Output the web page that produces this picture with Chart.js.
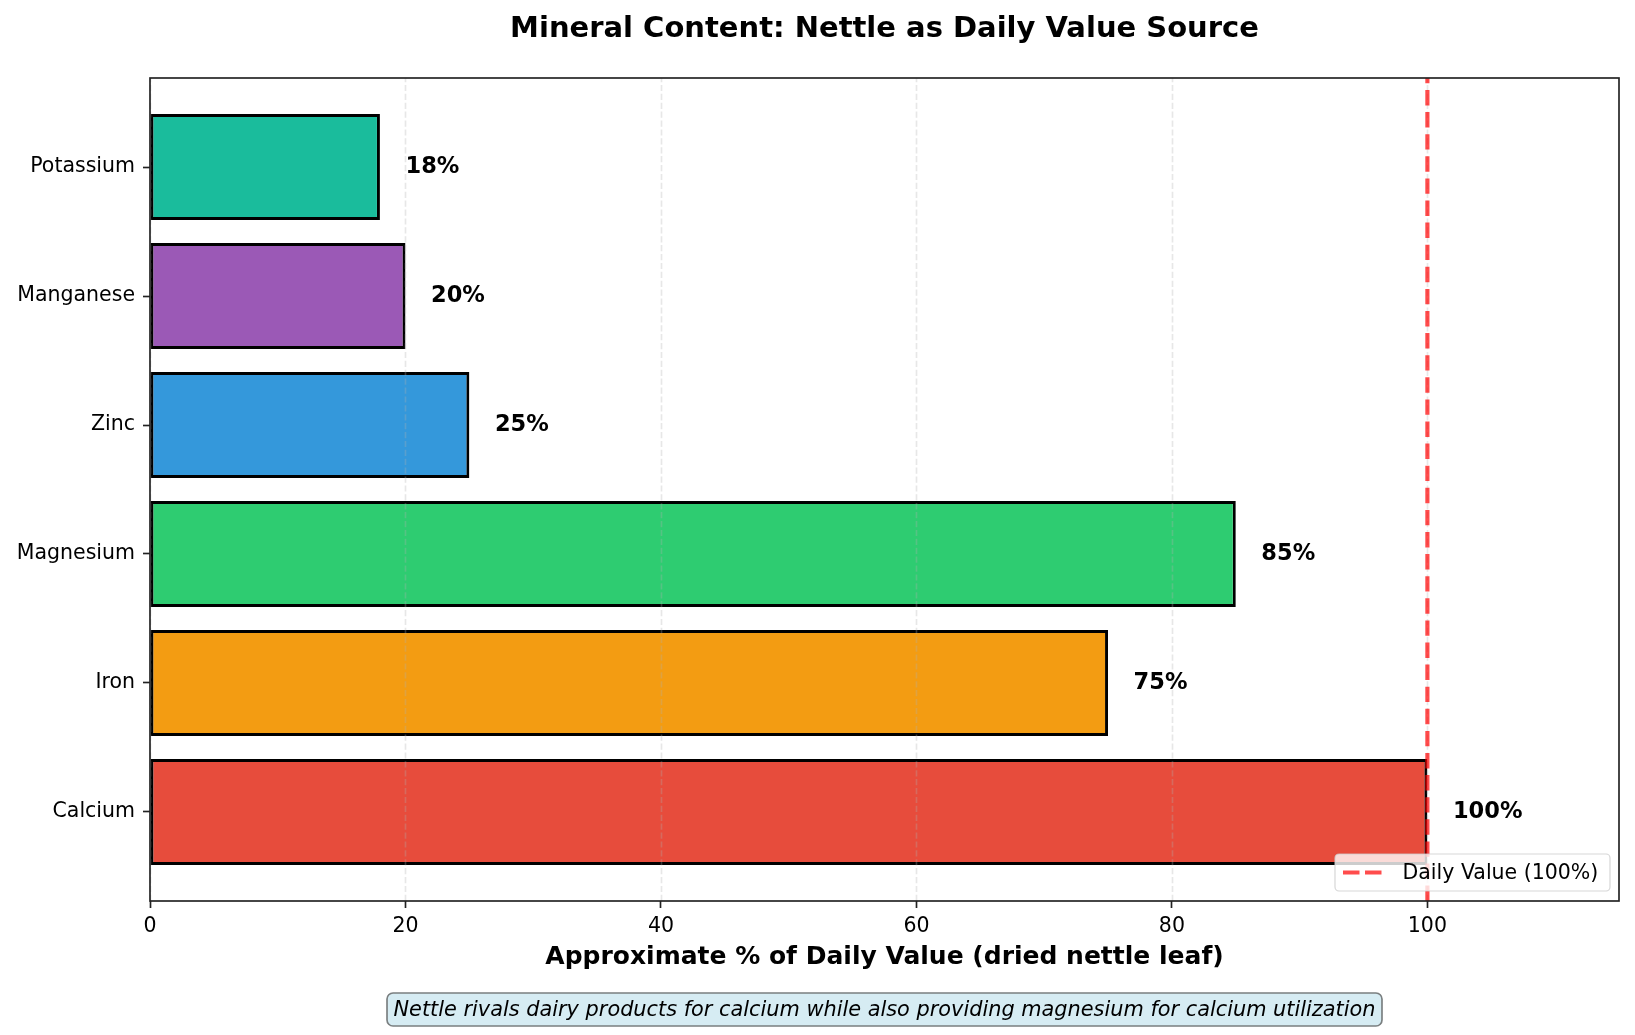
<!DOCTYPE html>
<html>
<head>
<meta charset="utf-8">
<script src="https://cdn.jsdelivr.net/npm/chart.js@4.4.1/dist/chart.umd.min.js"></script>
<style>
  html, body { margin: 0; padding: 0; background: #ffffff; }
  #wrap { width: 1635px; height: 1035px; position: relative; }
  canvas { display: block; }
</style>
</head>
<body>
<div id="wrap"><canvas id="c" width="1635" height="1035"></canvas></div>
<script>
// ---- data (bottom to top) ----
const categories = ['Calcium', 'Iron', 'Magnesium', 'Zinc', 'Manganese', 'Potassium'];
const values = [100, 75, 85, 25, 20, 18];
const barColors = ['#e74c3c', '#f39c12', '#2ecc71', '#3498db', '#9b59b6', '#1abc9c'];
const xTicks = [0, 20, 40, 60, 80, 100];
const dailyValue = 100;
const xMin = 0, xMax = 115;
const yMin = -0.69, yMax = 5.69;

const titleText = 'Mineral Content: Nettle as Daily Value Source';
const xLabelText = 'Approximate % of Daily Value (dried nettle leaf)';
const noteText = 'Nettle rivals dairy products for calcium while also providing magnesium for calcium utilization';
const legendText = 'Daily Value (100%)';

const FONT = "'DejaVu Sans', sans-serif";
Chart.defaults.font.family = FONT;
Chart.defaults.color = '#000000';

function roundRect(ctx, x, y, w, h, r) {
  ctx.beginPath();
  ctx.moveTo(x + r, y);
  ctx.lineTo(x + w - r, y);
  ctx.arcTo(x + w, y, x + w, y + r, r);
  ctx.lineTo(x + w, y + h - r);
  ctx.arcTo(x + w, y + h, x + w - r, y + h, r);
  ctx.lineTo(x + r, y + h);
  ctx.arcTo(x, y + h, x, y + h - r, r);
  ctx.lineTo(x, y + r);
  ctx.arcTo(x, y, x + r, y, r);
  ctx.closePath();
}

const overlay = {
  id: 'overlay',
  afterDatasetsDraw(chart) {
    const ctx = chart.ctx;
    const a = chart.chartArea;
    const xs = chart.scales.x;
    const ys = chart.scales.y;

    // grid lines (dashed, faint, above bars)
    ctx.save();
    ctx.strokeStyle = 'rgba(176,176,176,0.3)';
    ctx.lineWidth = 1.67;
    ctx.setLineDash([6.2, 2.7]);
    xTicks.forEach(v => {
      const px = Math.round(xs.getPixelForValue(v)) + 0.5;
      ctx.beginPath();
      ctx.moveTo(px, a.bottom);
      ctx.lineTo(px, a.top);
      ctx.stroke();
    });
    ctx.restore();

    // daily value line
    ctx.save();
    ctx.strokeStyle = 'rgba(255,0,0,0.7)';
    ctx.lineWidth = 4.17;
    ctx.setLineDash([15.4, 6.7]);
    const dx = xs.getPixelForValue(dailyValue);
    ctx.beginPath();
    ctx.moveTo(dx, a.bottom);
    ctx.lineTo(dx, a.top);
    ctx.stroke();
    ctx.restore();

    // frame
    ctx.save();
    ctx.strokeStyle = '#222222';
    ctx.lineWidth = 1.67;
    ctx.strokeRect(a.left, a.top, a.right - a.left, a.bottom - a.top);
    ctx.restore();

    // value labels
    ctx.save();
    ctx.fillStyle = '#000000';
    ctx.font = 'bold 22.5px ' + FONT;
    ctx.textAlign = 'left';
    ctx.textBaseline = 'middle';
    values.forEach((v, i) => {
      ctx.fillText(v + '%', xs.getPixelForValue(v + 2), ys.getPixelForValue(i));
    });
    ctx.restore();

    // legend
    ctx.save();
    const lx = 1335, ly = 854, lw = 275, lh = 37;
    roundRect(ctx, lx, ly, lw, lh, 4);
    ctx.fillStyle = 'rgba(255,255,255,0.8)';
    ctx.fill();
    ctx.strokeStyle = 'rgba(204,204,204,0.8)';
    ctx.lineWidth = 1.2;
    ctx.stroke();
    ctx.strokeStyle = 'rgba(255,0,0,0.7)';
    ctx.lineWidth = 4.17;
    ctx.setLineDash([16.5, 5.5]);
    ctx.beginPath();
    ctx.moveTo(1343, ly + lh / 2);
    ctx.lineTo(1382, ly + lh / 2);
    ctx.stroke();
    ctx.setLineDash([]);
    ctx.fillStyle = '#000000';
    ctx.font = '20.5px ' + FONT;
    ctx.textAlign = 'left';
    ctx.textBaseline = 'middle';
    ctx.fillText(legendText, 1402.5, ly + lh / 2 + 1);
    ctx.restore();
  },
  afterDraw(chart) {
    const ctx = chart.ctx;
    const a = chart.chartArea;
    const cx = (a.left + a.right) / 2;
    ctx.save();
    ctx.fillStyle = '#000000';
    ctx.textAlign = 'center';
    ctx.textBaseline = 'alphabetic';
    ctx.font = 'bold 29px ' + FONT;
    ctx.fillText(titleText, cx, 37);
    ctx.font = 'bold 25px ' + FONT;
    ctx.fillText(xLabelText, cx, 964);

    // annotation box
    ctx.font = 'italic 20.85px ' + FONT;
    const tw = ctx.measureText(noteText).width;
    const bx = cx - tw / 2 - 6.5, bw = tw + 13, by = 993, bh = 33;
    roundRect(ctx, bx, by, bw, bh, 6);
    ctx.fillStyle = 'rgb(214,236,243)';
    ctx.fill();
    ctx.strokeStyle = '#7a7f80';
    ctx.lineWidth = 1.67;
    ctx.stroke();
    ctx.fillStyle = '#000000';
    ctx.fillText(noteText, cx, 1016);
    ctx.restore();
  }
};

new Chart(document.getElementById('c'), {
  type: 'bar',
  data: {
    datasets: [{
      data: values.map((v, i) => ({ x: v, y: i })),
      backgroundColor: barColors,
      borderColor: '#000000',
      borderWidth: 3,
      borderSkipped: false,
      categoryPercentage: 1.0,
      barPercentage: 0.823
    }]
  },
  options: {
    indexAxis: 'y',
    responsive: false,
    animation: false,
    devicePixelRatio: 1,
    layout: { padding: { top: 78, right: 16, left: 0, bottom: 0 } },
    plugins: {
      legend: { display: false },
      tooltip: { enabled: false },
      title: { display: false }
    },
    scales: {
      x: {
        type: 'linear',
        min: xMin,
        max: xMax,
        offset: false,
        afterFit(scale) { scale.height = 134; },
        afterBuildTicks(scale) { scale.ticks = xTicks.map(v => ({ value: v })); },
        ticks: {
          color: '#000000',
          font: { size: 20.5 },
          padding: 6,
          autoSkip: false,
          maxRotation: 0,
          callback: (v) => String(v)
        },
        grid: {
          offset: false,
          drawOnChartArea: false,
          drawTicks: true,
          tickLength: 7,
          tickColor: '#222222',
          tickWidth: 1.67
        },
        border: { display: false }
      },
      y: {
        type: 'linear',
        min: yMin,
        max: yMax,
        offset: false,
        afterFit(scale) { scale.width = 150; },
        afterBuildTicks(scale) { scale.ticks = categories.map((c, i) => ({ value: i })); },
        ticks: {
          color: '#000000',
          font: { size: 20.5 },
          padding: 8,
          autoSkip: false,
          callback: (v) => categories[v]
        },
        grid: {
          offset: false,
          drawOnChartArea: false,
          drawTicks: true,
          tickLength: 7,
          tickColor: '#222222',
          tickWidth: 1.67
        },
        border: { display: false }
      }
    }
  },
  plugins: [overlay]
});
</script>
</body>
</html>
